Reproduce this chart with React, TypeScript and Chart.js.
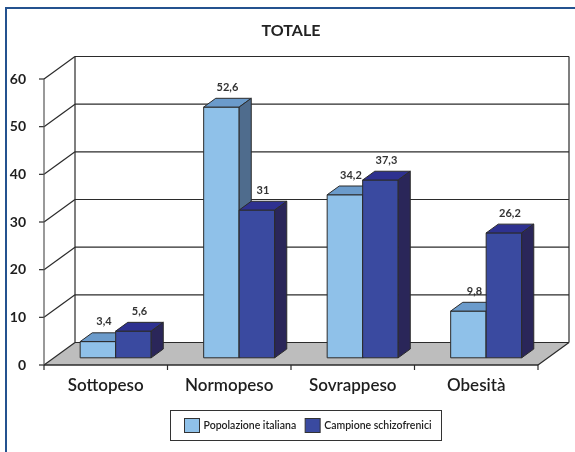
import { useEffect, useRef } from "react";
import { Chart, registerables } from "chart.js";

Chart.register(...registerables);

const chartTitle = "TOTALE";
const categories = ["Sottopeso", "Normopeso", "Sovrappeso", "Obesità"];
const seriesNames = ["Popolazione italiana", "Campione schizofrenici"];
const popolazioneItaliana = [3.4, 52.6, 34.2, 9.8];
const campioneSchizofrenici = [5.6, 31, 37.3, 26.2];
const yMin = 0;
const yMax = 60;
const yStep = 10;

// depth of the box (back wall offset from the front plane)
const WALL_DX = 31;
const WALL_DY = -22.5;
// bars sit inside the box: front face at BAR_OFF of the depth, thickness BAR_DEPTH
const BAR_OFF = 0.32;
const BAR_DEPTH = 0.39;

const FACE_COLORS = [
  { front: "#8fc1e9", top: "#6b9bcb", side: "#4f6c8d" },
  { front: "#3a4aa0", top: "#2e3190", side: "#2a2659" },
];
const LINE = "#2b2b2b";
const FONT = "Lato, 'Open Sans', sans-serif";

const fmt = (v: number) => String(v).replace(".", ",");

const box3d = {
  id: "box3d",
  beforeDatasetsDraw(chart: any) {
    const ctx: CanvasRenderingContext2D = chart.ctx;
    const { left, right, top, bottom } = chart.chartArea;
    const ys = chart.scales.y;
    const xs = chart.scales.x;
    const tickVals: number[] = ys.ticks.map((t: any) => t.value);

    ctx.save();
    // floor
    ctx.fillStyle = "#bdbdbd";
    ctx.beginPath();
    ctx.moveTo(left, bottom);
    ctx.lineTo(right, bottom);
    ctx.lineTo(right + WALL_DX, bottom + WALL_DY);
    ctx.lineTo(left + WALL_DX, bottom + WALL_DY);
    ctx.closePath();
    ctx.fill();

    ctx.strokeStyle = LINE;
    ctx.lineWidth = 1.2;
    // back wall grid lines and side-wall diagonals
    tickVals.forEach((v) => {
      const y = ys.getPixelForValue(v);
      ctx.beginPath();
      ctx.moveTo(left + WALL_DX, y + WALL_DY);
      ctx.lineTo(right + WALL_DX, y + WALL_DY);
      ctx.stroke();
      ctx.beginPath();
      ctx.moveTo(left, y);
      ctx.lineTo(left + WALL_DX, y + WALL_DY);
      ctx.stroke();
      // tick mark on the front axis
      ctx.beginPath();
      ctx.moveTo(left - 5, y);
      ctx.lineTo(left, y);
      ctx.stroke();
    });
    // wall edges
    ctx.beginPath();
    ctx.moveTo(left + WALL_DX, top + WALL_DY);
    ctx.lineTo(left + WALL_DX, bottom + WALL_DY);
    ctx.moveTo(right + WALL_DX, top + WALL_DY);
    ctx.lineTo(right + WALL_DX, bottom + WALL_DY);
    ctx.moveTo(right, bottom);
    ctx.lineTo(right + WALL_DX, bottom + WALL_DY);
    ctx.stroke();
    // front value axis
    ctx.strokeStyle = "#555";
    ctx.beginPath();
    ctx.moveTo(left, top);
    ctx.lineTo(left, bottom);
    ctx.stroke();
    // category axis with tick marks between categories
    ctx.strokeStyle = LINE;
    ctx.lineWidth = 1.5;
    ctx.beginPath();
    ctx.moveTo(left, bottom);
    ctx.lineTo(right, bottom);
    ctx.stroke();
    ctx.lineWidth = 1.2;
    const n = categories.length;
    const step = xs.getPixelForValue(1) - xs.getPixelForValue(0);
    for (let i = 0; i <= n; i++) {
      const x = i < n ? xs.getPixelForValue(i) - step / 2 : right;
      ctx.beginPath();
      ctx.moveTo(x, bottom);
      ctx.lineTo(x, bottom + 5);
      ctx.stroke();
    }

    // bars
    const fx = BAR_OFF * WALL_DX;
    const fy = BAR_OFF * WALL_DY;
    const bdx = BAR_DEPTH * WALL_DX;
    const bdy = BAR_DEPTH * WALL_DY;
    ctx.lineWidth = 1;
    ctx.strokeStyle = LINE;
    const labels: { x: number; y: number; t: string }[] = [];
    for (let j = 0; j < n; j++) {
      chart.data.datasets.forEach((ds: any, i: number) => {
        const el = chart.getDatasetMeta(i).data[j];
        const w = el.width;
        const l = el.x - w / 2 + fx;
        const r = el.x + w / 2 + fx;
        const t = el.y + fy;
        const b = el.base + fy;
        const c = FACE_COLORS[i];
        ctx.fillStyle = c.front;
        ctx.beginPath();
        ctx.rect(l, t, r - l, b - t);
        ctx.fill();
        ctx.stroke();
        ctx.fillStyle = c.top;
        ctx.beginPath();
        ctx.moveTo(l, t);
        ctx.lineTo(r, t);
        ctx.lineTo(r + bdx, t + bdy);
        ctx.lineTo(l + bdx, t + bdy);
        ctx.closePath();
        ctx.fill();
        ctx.stroke();
        ctx.fillStyle = c.side;
        ctx.beginPath();
        ctx.moveTo(r, t);
        ctx.lineTo(r + bdx, t + bdy);
        ctx.lineTo(r + bdx, b + bdy);
        ctx.lineTo(r, b);
        ctx.closePath();
        ctx.fill();
        ctx.stroke();
        labels.push({ x: (l + r) / 2 + bdx / 2, y: t + bdy - 7.5, t: fmt(ds.data[j]) });
      });
    }
    ctx.fillStyle = "#333";
    ctx.font = `bold 11px ${FONT}`;
    ctx.textAlign = "center";
    ctx.textBaseline = "alphabetic";
    labels.forEach((lb) => ctx.fillText(lb.t, lb.x, lb.y));
    ctx.restore();
    return false;
  },
  afterDraw(chart: any) {
    const ctx: CanvasRenderingContext2D = chart.ctx;
    ctx.save();
    // outer frame (left and top)
    ctx.strokeStyle = "#24528f";
    ctx.lineWidth = 2;
    ctx.beginPath();
    ctx.moveTo(6, chart.height);
    ctx.lineTo(6, 8);
    ctx.lineTo(chart.width, 8);
    ctx.stroke();

    // title
    ctx.fillStyle = "#222";
    ctx.font = `bold 16px ${FONT}`;
    ctx.textAlign = "center";
    ctx.textBaseline = "middle";
    ctx.fillText(chartTitle, 291, 31);

    // legend in a framed box
    ctx.font = `600 10.5px ${FONT}`;
    const sw = 15, sh = 14, gap = 4, between = 9, padL = 14, padR = 10;
    const items = chart.data.datasets.map((ds: any, i: number) => ({
      label: ds.label,
      color: FACE_COLORS[i].front,
      w: ctx.measureText(ds.label).width,
    }));
    const total = padL + padR + items.reduce((s: number, it: any) => s + sw + gap + it.w, 0) + between * (items.length - 1);
    const cx = 306;
    const bx = Math.round(cx - total / 2) + 0.5;
    const by = 410.5;
    const bh = 30;
    ctx.strokeStyle = "#333";
    ctx.lineWidth = 1;
    ctx.strokeRect(bx, by, Math.round(total), bh);
    let x = bx + padL;
    ctx.textAlign = "left";
    ctx.textBaseline = "middle";
    items.forEach((it: any) => {
      ctx.fillStyle = it.color;
      ctx.fillRect(x, by + 8, sw, sh);
      ctx.strokeRect(x, by + 8, sw, sh);
      ctx.fillStyle = "#222";
      ctx.fillText(it.label, x + sw + gap, by + 15.5);
      x += sw + gap + it.w + between;
    });
    ctx.restore();
  },
};

export default function App() {
  const ref = useRef<HTMLCanvasElement | null>(null);

  useEffect(() => {
    if (!ref.current) return;
    const chart = new Chart(ref.current, {
      type: "bar",
      data: {
        labels: categories,
        datasets: [
          { label: seriesNames[0], data: popolazioneItaliana, backgroundColor: FACE_COLORS[0].front },
          { label: seriesNames[1], data: campioneSchizofrenici, backgroundColor: FACE_COLORS[1].front },
        ],
      },
      options: {
        responsive: false,
        animation: false,
        devicePixelRatio: 1,
        layout: { padding: { left: 0, right: 37, top: 79, bottom: 0 } },
        datasets: { bar: { categoryPercentage: 0.575, barPercentage: 1 } },
        plugins: {
          legend: { display: false },
          title: { display: false },
          tooltip: { enabled: false },
        },
        scales: {
          x: {
            grid: { display: false },
            border: { display: false },
            ticks: {
              padding: 2,
              color: "#1e1e1e",
              font: { family: FONT, size: 17, weight: "600" },
            },
            afterFit: (s: any) => {
              s.height = 87;
            },
          },
          y: {
            min: yMin,
            max: yMax,
            grid: { display: false },
            border: { display: false },
            ticks: {
              stepSize: yStep,
              padding: 10,
              color: "#1e1e1e",
              font: { family: FONT, size: 14, weight: "bold" },
            },
            afterFit: (s: any) => {
              s.width = 44;
            },
          },
        },
      },
      plugins: [box3d],
    });
    return () => chart.destroy();
  }, []);

  return (
    <div style={{ position: "absolute", left: 0, top: 0, width: 575, height: 452, background: "#fff" }}>
      <canvas ref={ref} width={575} height={452} style={{ display: "block" }} />
    </div>
  );
}
